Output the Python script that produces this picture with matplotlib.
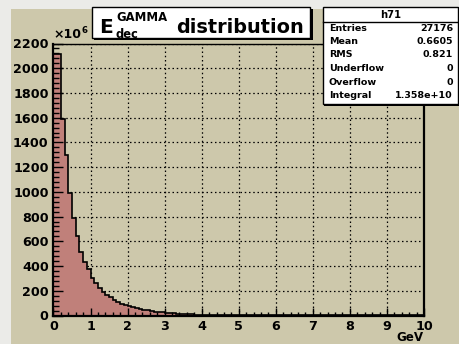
import matplotlib
matplotlib.use("Agg")
import matplotlib.pyplot as plt
from matplotlib.patches import Rectangle
from matplotlib.lines import Line2D
from matplotlib.ticker import MultipleLocator
import numpy as np

# ---------------- data (units of 1e6) ----------------
bin_lo = 0.0
bin_hi = 10.0
counts = [2115, 2115, 1590, 1298, 994, 791, 643, 516, 435, 374,
          301, 266, 220, 193, 166, 147, 125, 112, 95, 82,
          75, 68, 60, 55, 48, 42, 34, 32, 28, 26,
          24, 20, 18, 15, 13, 12, 10, 9, 8, 7,
          6, 6, 5, 5, 4, 4, 4, 3, 3, 3,
          3, 2, 2, 2, 2, 2, 1, 1, 1, 1,
          1, 1, 1, 1, 1, 1, 0.5, 0.5, 0.5, 0.5,
          0.5, 0.5, 0.5, 0.5, 0.4, 0.4, 0.4, 0.4, 0.3, 0.3,
          0.3, 0.3, 0.3, 0.2, 0.2, 0.2, 0.2, 0.2, 0.2, 0.1,
          0.1, 0.1, 0.1, 0.1, 0.1, 0.1, 0.1, 0.1, 0.1, 0.1]
x_ticks = [0, 1, 2, 3, 4, 5, 6, 7, 8, 9, 10]
y_ticks = [0, 200, 400, 600, 800, 1000, 1200, 1400, 1600, 1800, 2000, 2200]
stat_names = ["Entries", "Mean", "RMS", "Underflow", "Overflow", "Integral"]
stat_values = ["27176", "0.6605", "0.821", "0", "0", "1.358e+10"]
hist_name = "h71"
x_unit = "GeV"

# ---------------- style ----------------
BEIGE = "#cdc8ab"
LIGHT = "#ebebe8"
FILL = "#c0807a"
FONT = "DejaVu Sans"
W, H = 460, 344

fig = plt.figure(figsize=(W / 100, H / 100), dpi=100)
fig.patch.set_facecolor(BEIGE)

def fx(px):
    return px / W

def fy(py):
    return 1 - py / H

# canvas bevel strips
fig.patches.append(Rectangle((0, 0), fx(11), 1, transform=fig.transFigure,
                             facecolor=LIGHT, edgecolor="none", zorder=0))
fig.patches.append(Rectangle((0, fy(9)), 1, 9 / H, transform=fig.transFigure,
                             facecolor=LIGHT, edgecolor="none", zorder=0))

ax = fig.add_axes([fx(53.5), 28.5 / H, 370.5 / W, 272 / H])
ax.set_facecolor(BEIGE)

edges = np.linspace(bin_lo, bin_hi, len(counts) + 1)
ax.stairs(counts, edges, fill=True, facecolor=FILL, edgecolor="none", zorder=1)
ax.stairs(counts, edges, fill=False, edgecolor="black", linewidth=1.2, zorder=1.1)

# grid below the histogram
for v in x_ticks[1:-1]:
    ax.axvline(v, color="black", linestyle=(0, (1.2, 2.2)), linewidth=0.9, zorder=0.5)
for v in y_ticks[1:]:
    ax.axhline(v, color="black", linestyle=(0, (1.2, 2.2)), linewidth=0.9, zorder=0.5)

ax.set_xlim(bin_lo, bin_hi)
ax.set_ylim(0, 2200)
ax.set_xticks(x_ticks)
ax.set_yticks(y_ticks)
ax.xaxis.set_minor_locator(MultipleLocator(0.2))
ax.yaxis.set_minor_locator(MultipleLocator(40))
ax.tick_params(axis="x", which="major", direction="in", length=5.5, width=1.0, pad=3)
ax.tick_params(axis="x", which="minor", direction="in", length=2.6, width=1.0)
ax.tick_params(axis="y", which="major", direction="in", length=7.5, width=1.0, pad=3.5)
ax.tick_params(axis="y", which="minor", direction="in", length=4, width=1.0)
for lab in ax.get_xticklabels() + ax.get_yticklabels():
    lab.set_fontfamily(FONT)
    lab.set_fontweight("bold")
    lab.set_fontsize(9.2)
for s in ["left", "bottom", "right"]:
    ax.spines[s].set_linewidth(1.6)
ax.spines["top"].set_linewidth(1.0)

# axis multiplier and unit
fig.text(fx(53), fy(38.3), "\u00d710", fontsize=9.0, fontweight="bold",
         family=FONT, ha="left", va="baseline")
fig.text(fx(81.5), fy(33), "6", fontsize=6.2, fontweight="bold",
         family=FONT, ha="left", va="baseline")
fig.text(fx(423.5), fy(341.2), x_unit, fontsize=8.6, fontweight="bold",
         family=FONT, ha="right", va="baseline")

# title box
fig.patches.append(Rectangle((fx(94), fy(40)), fx(311) - fx(92), 31 / H,
                             transform=fig.transFigure, facecolor="black",
                             edgecolor="none", zorder=3))
fig.patches.append(Rectangle((fx(92), fy(38)), fx(310) - fx(92), 31 / H,
                             transform=fig.transFigure, facecolor="white",
                             edgecolor="black", linewidth=1.0, zorder=4))
fig.text(fx(99.5), fy(33.3), "E", fontsize=14.5, fontweight="bold", family=FONT,
         ha="left", va="baseline", zorder=5)
fig.text(fx(116.5), fy(21), "GAMMA", fontsize=8.4, fontweight="bold", family=FONT,
         ha="left", va="baseline", zorder=5)
fig.text(fx(115.5), fy(37.8), "dec", fontsize=8.3, fontweight="bold", family=FONT,
         ha="left", va="baseline", zorder=5)
fig.text(fx(176), fy(33.3), "distribution", fontsize=13.9, fontweight="bold",
         family=FONT, ha="left", va="baseline", zorder=5)

# stats box
fig.patches.append(Rectangle((fx(324.5), fy(105.5)), fx(460) - fx(324.5), 98 / H,
                             transform=fig.transFigure, facecolor="black",
                             edgecolor="none", zorder=3))
fig.patches.append(Rectangle((fx(323), fy(104)), fx(458.5) - fx(323), 97 / H,
                             transform=fig.transFigure, facecolor="white",
                             edgecolor="black", linewidth=1.0, zorder=4))
fig.lines.append(Line2D([fx(323), fx(458.5)], [fy(21.5), fy(21.5)],
                        transform=fig.transFigure, color="black", linewidth=1.0, zorder=5))
fig.text(fx(391), fy(15), hist_name, fontsize=7.2, fontweight="bold", family=FONT,
         ha="center", va="center", zorder=5)
row_y = [28.5, 41.8, 54.2, 68.2, 82.4, 95.2]
for name, val, ry in zip(stat_names, stat_values, row_y):
    fig.text(fx(329), fy(ry), name, fontsize=6.8, fontweight="bold", family=FONT,
             ha="left", va="center", zorder=5)
    fig.text(fx(453), fy(ry), val, fontsize=6.8, fontweight="bold", family=FONT,
             ha="right", va="center", zorder=5)

fig.savefig("out.png", dpi=100, facecolor=fig.get_facecolor())
